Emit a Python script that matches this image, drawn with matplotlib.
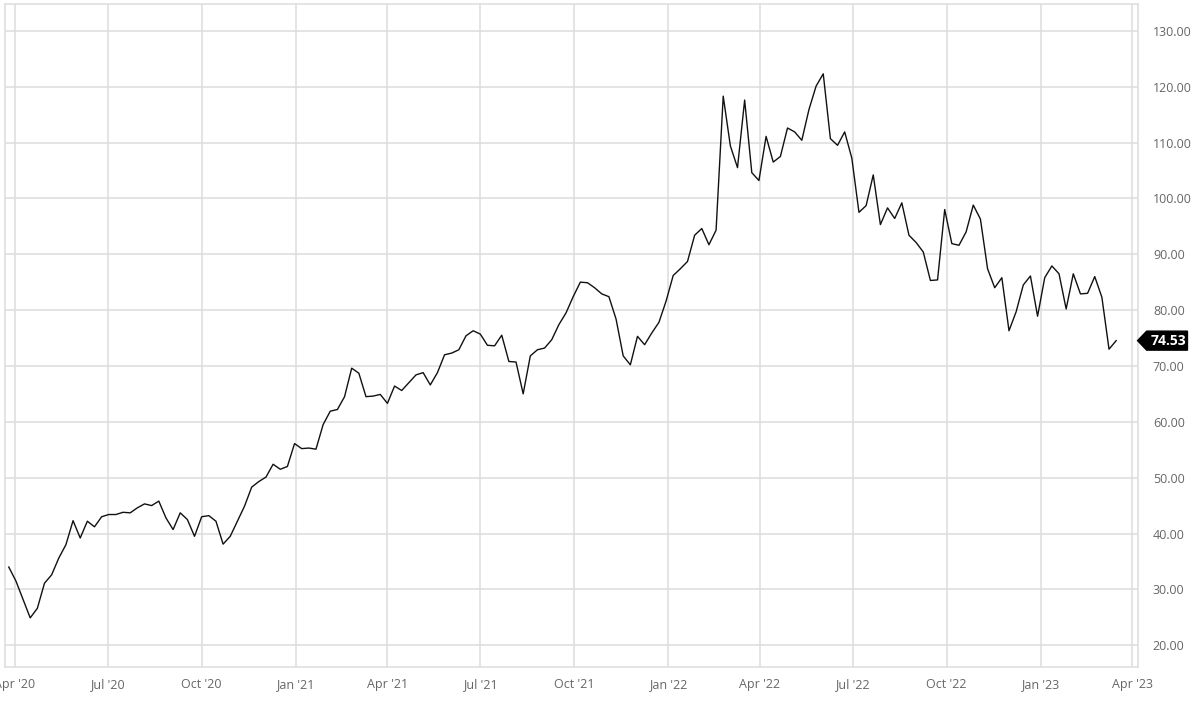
import pandas as pd
import matplotlib.pyplot as plt
import matplotlib.dates as mdates
from matplotlib.patches import Polygon
from matplotlib.transforms import blended_transform_factory

plt.rcParams['font.family'] = ['Open Sans', 'DejaVu Sans']

# weekly closing prices, late Mar 2020 .. mid Mar 2023
start_date = '2020-03-26'
prices = [
    34.0, 31.5, 28.2, 24.9, 26.6, 31.1, 32.6, 35.6, 38.0, 42.3,
    39.2, 42.2, 41.2, 43.0, 43.4, 43.4, 43.8, 43.7, 44.6, 45.3,
    45.0, 45.8, 42.8, 40.7, 43.7, 42.5, 39.5, 43.0, 43.2, 42.2,
    38.1, 39.5, 42.2, 44.9, 48.3, 49.3, 50.1, 52.4, 51.5, 52.0,
    56.1, 55.2, 55.3, 55.1, 59.5, 61.9, 62.2, 64.5, 69.6, 68.7,
    64.5, 64.6, 64.9, 63.3, 66.4, 65.6, 67.0, 68.4, 68.8, 66.6,
    68.8, 72.0, 72.3, 72.9, 75.4, 76.3, 75.7, 73.7, 73.6, 75.5,
    70.8, 70.7, 65.0, 71.8, 72.9, 73.2, 74.7, 77.4, 79.5, 82.4,
    85.0, 84.9, 84.0, 82.9, 82.4, 78.4, 71.8, 70.2, 75.3, 73.8,
    75.9, 77.8, 81.6, 86.2, 87.4, 88.7, 93.4, 94.6, 91.7, 94.3,
    118.3, 109.4, 105.5, 117.6, 104.6, 103.2, 111.1, 106.5, 107.5, 112.6,
    111.9, 110.4, 115.9, 120.1, 122.3, 110.7, 109.5, 111.9, 107.2, 97.5,
    98.7, 104.2, 95.3, 98.3, 96.4, 99.2, 93.4, 92.1, 90.4, 85.3,
    85.4, 98.0, 91.9, 91.6, 94.0, 98.8, 96.3, 87.4, 84.0, 85.8,
    76.3, 79.7, 84.5, 86.1, 78.9, 85.8, 87.9, 86.5, 80.2, 86.5,
    82.9, 83.0, 86.0, 82.3, 73.0, 74.53,
]
dates = pd.date_range(start_date, periods=len(prices), freq='7D')
y_ticks = [20, 30, 40, 50, 60, 70, 80, 90, 100, 110, 120, 130]

fig = plt.figure(figsize=(12, 7.01), dpi=100)
ax = fig.add_axes([0.0039, 0.0485, 0.9441, 0.9458])

ax.plot(dates, prices, color='#111111', lw=1.0, zorder=3)

ax.set_xlim(pd.Timestamp('2020-03-22'), pd.Timestamp('2023-04-06'))
ax.set_ylim(16.1, 134.8)

ax.xaxis.set_major_locator(mdates.MonthLocator(bymonth=[1, 4, 7, 10]))
ax.xaxis.set_major_formatter(mdates.DateFormatter("%b '%y"))
ax.yaxis.tick_right()
ax.set_yticks(y_ticks)
ax.set_yticklabels([f'{v:.2f}' for v in y_ticks])

ax.tick_params(axis='both', length=0, labelsize=9, labelcolor='#666666')
ax.tick_params(axis='y', pad=11)
ax.tick_params(axis='x', pad=8)

ax.grid(True, color='#dddddd', lw=1.1)
ax.set_axisbelow(True)
for s in ax.spines.values():
    s.set_color('#dddddd')
    s.set_linewidth(1.1)

# last value tag on the right axis
last = prices[-1]
tr = blended_transform_factory(ax.transAxes, ax.transData)
h = 1.7
tag = Polygon([(1.0, last), (1.008, last + h), (1.044, last + h),
               (1.044, last - h), (1.008, last - h)],
              closed=True, transform=tr, facecolor='black',
              edgecolor='black', clip_on=False, zorder=5)
ax.add_patch(tag)
ax.text(1.027, last, f'{last:.2f}', transform=tr, ha='center', va='center',
        color='white', fontsize=10, fontweight='bold', zorder=6)

fig.savefig('out.png', dpi=100, facecolor='white')
